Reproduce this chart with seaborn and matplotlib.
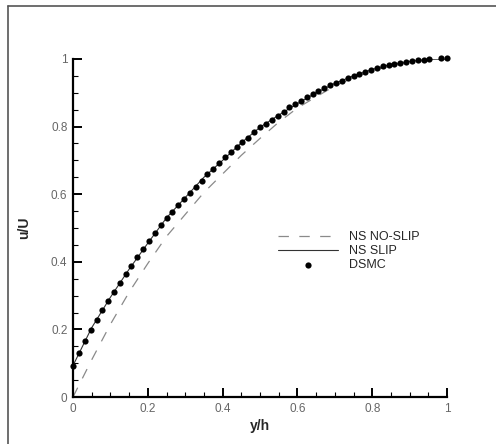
import matplotlib
matplotlib.use("Agg")
import matplotlib.pyplot as plt
from matplotlib.lines import Line2D
from matplotlib.ticker import MultipleLocator, FuncFormatter
import seaborn as sns
import pandas as pd

# ---- data ----
ns_x = [0.0, 0.05, 0.10, 0.15, 0.20, 0.25, 0.30, 0.35, 0.40, 0.45, 0.50,
        0.55, 0.60, 0.65, 0.70, 0.75, 0.80, 0.85, 0.90, 0.95, 1.0]
ns_noslip = [0.0, 0.11, 0.215, 0.31, 0.395, 0.475, 0.54, 0.605, 0.66, 0.715, 0.765,
             0.813, 0.855, 0.888, 0.92, 0.945, 0.965, 0.98, 0.99, 0.997, 1.0]
ns_slip = [0.093, 0.205, 0.295, 0.378, 0.455, 0.530, 0.590, 0.650, 0.700, 0.752, 0.798,
           0.834, 0.868, 0.900, 0.928, 0.950, 0.969, 0.984, 0.993, 0.999, 1.0]

dsmc_x = [0.0, 0.016, 0.031, 0.047, 0.063, 0.078, 0.094, 0.109, 0.125, 0.141, 0.156,
          0.172, 0.188, 0.203, 0.219, 0.234, 0.250, 0.266, 0.281, 0.297, 0.313, 0.328,
          0.344, 0.359, 0.375, 0.391, 0.406, 0.422, 0.438, 0.453, 0.469, 0.484, 0.500,
          0.516, 0.531, 0.547, 0.563, 0.578, 0.594, 0.609, 0.625, 0.641, 0.656, 0.672,
          0.688, 0.703, 0.719, 0.734, 0.750, 0.766, 0.781, 0.797, 0.813, 0.828, 0.844,
          0.859, 0.875, 0.891, 0.906, 0.922, 0.938, 0.953, 0.984, 1.0]
dsmc_u = [0.093, 0.131, 0.165, 0.197, 0.227, 0.257, 0.284, 0.311, 0.337, 0.363, 0.389,
          0.414, 0.438, 0.462, 0.486, 0.508, 0.529, 0.547, 0.568, 0.586, 0.604, 0.622,
          0.640, 0.659, 0.675, 0.693, 0.711, 0.724, 0.739, 0.754, 0.767, 0.783, 0.798,
          0.808, 0.820, 0.832, 0.844, 0.857, 0.866, 0.876, 0.888, 0.897, 0.904, 0.914,
          0.922, 0.930, 0.936, 0.944, 0.951, 0.956, 0.963, 0.968, 0.973, 0.978, 0.982,
          0.985, 0.988, 0.991, 0.994, 0.996, 0.997, 1.000, 1.002, 1.002]

labels = ["NS NO-SLIP", "NS SLIP", "DSMC"]
x_label = "y/h"
y_label = "u/U"

# ---- styling ----
sns.set_theme(style="ticks")
plt.rcParams["font.family"] = ["Liberation Sans", "DejaVu Sans"]
plt.rcParams["lines.scale_dashes"] = False

fig = plt.figure(figsize=(4.96, 4.44), dpi=100)
ax = fig.add_axes([73 / 496, 47 / 444, 374 / 496, 338 / 444])

df_lines = pd.DataFrame({"x": ns_x, "noslip": ns_noslip, "slip": ns_slip})
df_dsmc = pd.DataFrame({"x": dsmc_x, "u": dsmc_u})

sns.lineplot(data=df_lines, x="x", y="noslip", ax=ax, color="#8a8a8a", lw=0.9,
             dashes=False, label=labels[0])
ax.lines[-1].set_dashes((7.5, 7.5))
sns.lineplot(data=df_lines, x="x", y="slip", ax=ax, color="#333333", lw=0.8,
             label=labels[1])
sns.scatterplot(data=df_dsmc, x="x", y="u", ax=ax, color="black", s=20,
                linewidth=0, label=labels[2], clip_on=False, zorder=5)

ax.set_xlim(0, 1)
ax.set_ylim(0, 1)
ax.xaxis.set_major_locator(MultipleLocator(0.2))
ax.xaxis.set_minor_locator(MultipleLocator(0.05))
ax.yaxis.set_major_locator(MultipleLocator(0.2))
ax.yaxis.set_minor_locator(MultipleLocator(0.05))
fmt = FuncFormatter(lambda v, p: "0" if abs(v) < 1e-9 else ("1" if abs(v - 1) < 1e-9 else f"{v:.1f}"))
ax.xaxis.set_major_formatter(fmt)
ax.yaxis.set_major_formatter(fmt)

for s in ["top", "right"]:
    ax.spines[s].set_visible(False)
for s in ["left", "bottom"]:
    ax.spines[s].set_linewidth(1.6)
    ax.spines[s].set_color("black")

ax.tick_params(axis="both", which="major", direction="in", length=6.5, width=1.4,
               color="black", labelsize=8.5, labelcolor="#666666", pad=4)
ax.tick_params(axis="both", which="minor", direction="in", length=3.8, width=0.8,
               color="black")

ax.set_xlabel(x_label, fontsize=10, fontweight="bold", labelpad=3)
ax.set_ylabel(y_label, fontsize=10, fontweight="bold", labelpad=14)

leg = ax.legend(loc="upper left", bbox_to_anchor=(0.548, 0.49), frameon=False,
                fontsize=9, handlelength=4.8, handletextpad=0.9, labelspacing=0.15,
                borderpad=0, borderaxespad=0, markerscale=1.0)

# figure frame (partial, as in the reference)
fig.add_artist(Line2D([8 / 496, 1.0], [1 - 6 / 444, 1 - 6 / 444], transform=fig.transFigure,
                      color="#555555", lw=1.2))
fig.add_artist(Line2D([8 / 496, 8 / 496], [0.0, 1 - 6 / 444], transform=fig.transFigure,
                      color="#555555", lw=1.2))

fig.savefig("out.png", dpi=100)
